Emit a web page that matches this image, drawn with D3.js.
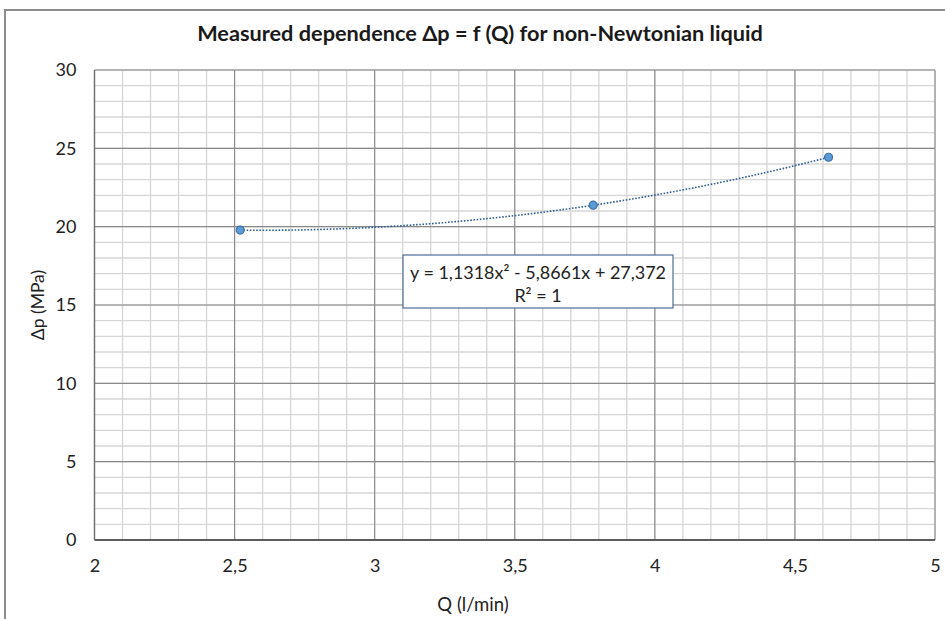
<!DOCTYPE html>
<html><head><meta charset="utf-8">
<script src="https://cdn.jsdelivr.net/npm/d3@7"></script>
<style>
html,body{margin:0;padding:0;background:#fff;}
svg{display:block;font-family:Lato,"Open Sans",sans-serif;}
</style></head>
<body><svg id="c" width="945" height="619"></svg>
<script>
const title = "Measured dependence Δp = f (Q) for non-Newtonian liquid";
const xTitle = "Q (l/min)";
const yTitle = "Δp (MPa)";
const flowQ = [2.52, 3.78, 4.62];
const pressureDp = [19.78, 21.37, 24.43];
const trendCoeffs = [1.1318, -5.8661, 27.372];   // a, b, c of y = ax² + bx + c
const eqLines = ["y = 1,1318x² - 5,8661x + 27,372", "R² = 1"];
const xTicks = [2, 2.5, 3, 3.5, 4, 4.5, 5];
const yTicks = [0, 5, 10, 15, 20, 25, 30];

const svg = d3.select("#c");
const M = {l: 94.5, r: 935, t: 70, b: 540};
const x = d3.scaleLinear().domain([2, 5]).range([M.l, M.r]);
const y = d3.scaleLinear().domain([0, 30]).range([M.b, M.t]);
const fmt = v => String(v).replace(".", ",");
const txtCol = "#222";

// fit a text element's font size so it spans the target width
function fit(sel, target, base) {
  sel.attr("font-size", base);
  const w = sel.node().getComputedTextLength();
  if (w > 0) sel.attr("font-size", base * target / w);
  return sel;
}

// outer frame
svg.append("rect").attr("x", 5).attr("y", 10).attr("width", 960).attr("height", 640)
  .attr("fill", "none").attr("stroke", "#8c8c8c").attr("stroke-width", 2);

// minor grid
const g = svg.append("g");
g.selectAll(".mx").data(d3.range(2, 5.001, 0.1)).join("line")
  .attr("x1", d => x(d)).attr("x2", d => x(d)).attr("y1", M.t).attr("y2", M.b)
  .attr("stroke", "#d6d6d6").attr("stroke-width", 1.3);
g.selectAll(".my").data(d3.range(0, 30.001, 1)).join("line")
  .attr("y1", d => y(d)).attr("y2", d => y(d)).attr("x1", M.l).attr("x2", M.r)
  .attr("stroke", "#d6d6d6").attr("stroke-width", 1.3);
// major grid
g.selectAll(".Mx").data(xTicks).join("line")
  .attr("x1", d => x(d)).attr("x2", d => x(d)).attr("y1", M.t).attr("y2", M.b)
  .attr("stroke", "#8a8a8a").attr("stroke-width", 1.1);
g.selectAll(".My").data(yTicks).join("line")
  .attr("y1", d => y(d)).attr("y2", d => y(d)).attr("x1", M.l).attr("x2", M.r)
  .attr("stroke", "#8a8a8a").attr("stroke-width", 1.1);
// axis lines
svg.append("line").attr("x1", M.l).attr("x2", M.r).attr("y1", y(0)).attr("y2", y(0))
  .attr("stroke", "#404040").attr("stroke-width", 1.3);
svg.append("line").attr("x1", x(2)).attr("x2", x(2)).attr("y1", M.t).attr("y2", M.b)
  .attr("stroke", "#6e6e6e").attr("stroke-width", 1.3);

// axes via d3
const xAxis = svg.append("g").attr("transform", `translate(0,${M.b})`)
  .call(d3.axisBottom(x).tickValues(xTicks).tickFormat(fmt).tickSize(0).tickPadding(19));
const yAxis = svg.append("g").attr("transform", `translate(${M.l},0)`)
  .call(d3.axisLeft(y).tickValues(yTicks).tickFormat(fmt).tickSize(0).tickPadding(18));
[xAxis, yAxis].forEach(a => {
  a.select(".domain").remove();
  a.selectAll("text").attr("font-size", 18).attr("fill", txtCol)
    .attr("font-family", "Lato, 'Open Sans', sans-serif");
});

// trendline
const poly = q => trendCoeffs[0]*q*q + trendCoeffs[1]*q + trendCoeffs[2];
const tq = d3.range(flowQ[0], flowQ[flowQ.length-1] + 1e-9, 0.02);
svg.append("path").datum(tq)
  .attr("d", d3.line().x(d => x(d)).y(d => y(poly(d))))
  .attr("fill", "none").attr("stroke", "#2f5f96").attr("stroke-width", 1.6)
  .attr("stroke-dasharray", "1.6,1.6");

// points
svg.selectAll(".pt").data(flowQ).join("circle")
  .attr("cx", d => x(d)).attr("cy", (d, i) => y(pressureDp[i])).attr("r", 4)
  .attr("fill", "#5b9bd5").attr("stroke", "#3c6fa6").attr("stroke-width", 1.2);

// equation box
svg.append("rect").attr("x", 403).attr("y", 255).attr("width", 270).attr("height", 53)
  .attr("fill", "#fff").attr("stroke", "#4f6d96").attr("stroke-width", 1.2);
const eq = svg.selectAll(".eq").data(eqLines).join("text")
  .attr("x", 538).attr("y", (d, i) => 279 + i * 23)
  .attr("text-anchor", "middle").attr("fill", txtCol)
  .text(d => d);
fit(d3.select(eq.nodes()[0]), 256, 16);
d3.select(eq.nodes()[1]).attr("font-size", d3.select(eq.nodes()[0]).attr("font-size"));

// titles
fit(svg.append("text").attr("x", 480).attr("y", 41).attr("text-anchor", "middle")
  .attr("font-weight", "bold").attr("fill", "#1a1a1a").text(title), 566, 18);
svg.append("text").attr("x", 473).attr("y", 611).attr("text-anchor", "middle")
  .attr("font-size", 18.5).attr("fill", txtCol).text(xTitle);
svg.append("text").attr("transform", `translate(44,${(M.t+M.b)/2}) rotate(-90)`)
  .attr("text-anchor", "middle").attr("font-size", 17.5).attr("fill", txtCol).text(yTitle);
</script></body></html>
